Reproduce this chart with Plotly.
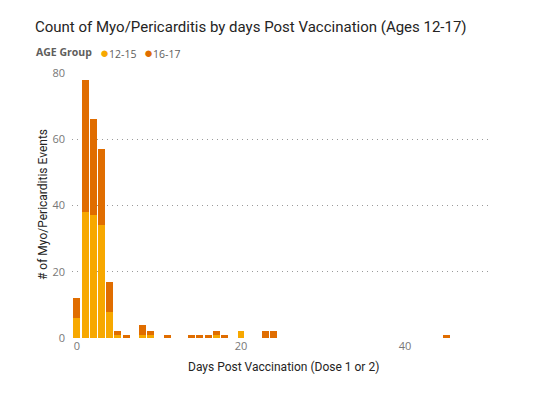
import plotly.graph_objects as go

days = [0, 1, 2, 3, 4, 5, 6, 8, 9, 11, 14, 15, 16, 17, 18, 20, 23, 24, 45]
age_12_15 = [6, 38, 37, 34, 8, 1, 0, 1, 1, 0, 0, 0, 0, 1, 0, 2, 0, 0, 0]
age_16_17 = [6, 40, 29, 23, 9, 1, 1, 3, 1, 1, 1, 1, 1, 1, 1, 0, 2, 2, 1]
series_names = ["12-15", "16-17"]
colors = ["#F7A800", "#E06D00"]
y_ticks = [0, 20, 40, 60, 80]
x_ticks = [0, 20, 40]

# page body has an 8px margin; lay out the figure so the screen positions match
OFF = 8
W, H = 550, 398
L, T = 72 - OFF, 73 - OFF
PW, PH = 420, 265
R, B = W - L - PW, H - T - PH

def px(x):
    return (x - OFF - L) / PW

def py(y):
    return (T + PH - (y - OFF)) / PH

title_font = "Roboto, sans-serif"
body_font = "'Open Sans', 'Segoe UI', sans-serif"
axis_title_font = "Roboto, sans-serif"
legend_color = "#605E5C"

fig = go.Figure()
for name, vals, col in zip(series_names, [age_12_15, age_16_17], colors):
    fig.add_trace(go.Bar(x=days, y=vals, name=name, marker_color=col,
                         marker_line_width=0, width=0.85, showlegend=False))

annotations = [
    dict(text="Count of Myo/Pericarditis by days Post Vaccination (Ages 12-17)",
         x=px(33), y=py(27), xref="paper", yref="paper", xanchor="left", yanchor="middle",
         showarrow=False, font=dict(family=title_font, size=15, color="#252423")),
    dict(text="# of Myo/Pericarditis Events", x=px(43), y=py(205), xref="paper", yref="paper",
         textangle=-90, xanchor="center", yanchor="middle", showarrow=False,
         font=dict(family=axis_title_font, size=12, color="#252423")),
    dict(text="Days Post Vaccination (Dose 1 or 2)", x=px(283), y=py(367), xref="paper", yref="paper",
         xanchor="center", yanchor="middle", showarrow=False,
         font=dict(family=axis_title_font, size=12, color="#252423")),
    dict(text="<b>AGE Group</b>", x=px(34), y=py(52.5), xref="paper", yref="paper",
         xanchor="left", yanchor="middle", showarrow=False,
         font=dict(family=body_font, size=10.5, color=legend_color)),
]
legend_x = [98, 142]
for name, col, lx in zip(series_names, colors, legend_x):
    annotations.append(dict(text=f"<span style='color:{col};font-size:15px'>●</span>{name}",
                            x=px(lx), y=py(52.5), xref="paper", yref="paper",
                            xanchor="left", yanchor="middle", showarrow=False,
                            font=dict(family=body_font, size=10.5, color=legend_color)))

fig.update_layout(
    barmode="stack",
    width=W, height=H,
    paper_bgcolor="white", plot_bgcolor="white",
    margin=dict(l=L, r=R, t=T, b=B, autoexpand=False),
    showlegend=False,
    font=dict(family=body_font),
    annotations=annotations,
)
fig.update_xaxes(range=[-0.6, 50.6], tickvals=x_ticks, showgrid=False, zeroline=False,
                 showline=False, ticks="", automargin=False,
                 tickfont=dict(size=11, color="#777777"))
fig.update_yaxes(range=[0, 80], tickvals=y_ticks, showgrid=True, gridcolor="#9A9A9A",
                 griddash="1px,4px", gridwidth=1, zeroline=False, showline=False, ticks="",
                 automargin=False,
                 tickfont=dict(size=11, color="#777777"), ticklabelstandoff=6)
fig.write_html("out.html")
